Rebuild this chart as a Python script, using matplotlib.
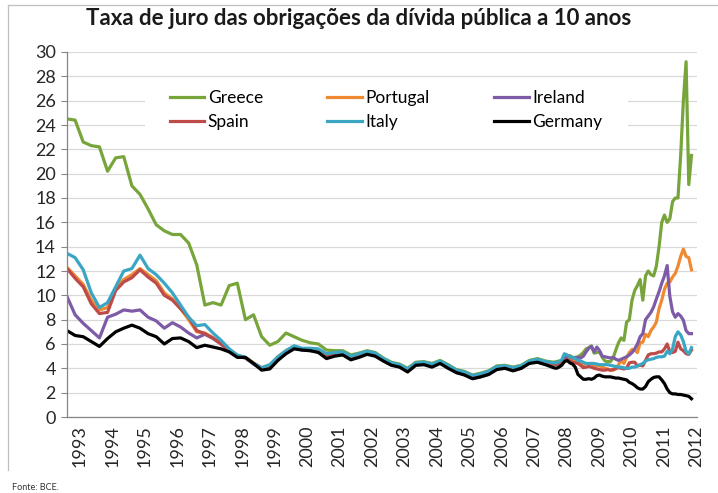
import matplotlib.pyplot as plt
import numpy as np
from matplotlib.patches import Rectangle
from matplotlib.lines import Line2D

plt.rcParams['font.family'] = ['Lato', 'DejaVu Sans']

# quarterly points 1993-2007, monthly points 2008 - Apr 2012
quarters = 1993 + np.arange(60) / 4
months = 2008 + np.arange(52) / 12
dates = np.concatenate([quarters, months])

years = list(range(1993, 2013))

greece_q = [24.5, 24.4, 22.6, 22.3, 22.2, 20.2, 21.3, 21.4, 19.0, 18.3, 17.1, 15.8,
            15.3, 15.0, 15.0, 14.3, 12.5, 9.2, 9.4, 9.2, 10.8, 11.0, 8.0, 8.4,
            6.6, 5.9, 6.2, 6.9, 6.6, 6.3, 6.1, 6.0, 5.5, 5.45, 5.45, 5.1,
            5.25, 5.45, 5.3, 4.85, 4.5, 4.35, 4.0, 4.5, 4.55, 4.4, 4.65, 4.3,
            3.9, 3.75, 3.45, 3.6, 3.8, 4.2, 4.25, 4.1, 4.25, 4.65, 4.8, 4.6]
greece_m = [4.5, 4.55, 4.6, 4.6, 4.8, 5.05, 5.05, 4.9, 4.9, 4.95, 5.1, 5.3,
            5.6, 5.7, 5.85, 5.25, 5.3, 5.35, 4.9, 4.6, 4.55, 4.55, 4.85, 5.5,
            6.1, 6.5, 6.3, 7.8, 8.0, 9.6, 10.4, 10.8, 11.3, 9.6, 11.6, 12.0,
            11.7, 11.6, 12.4, 14.0, 16.0, 16.6, 16.0, 16.3, 17.7, 18.0, 18.0, 21.5,
            26.0, 29.2, 19.1, 21.5]

portugal_q = [12.3, 11.6, 10.9, 9.6, 8.8, 9.0, 10.6, 11.3, 11.7, 12.2, 11.7, 11.2,
              10.2, 9.7, 8.9, 8.0, 7.0, 6.9, 6.5, 6.0, 5.5, 5.05, 4.9, 4.45,
              4.05, 4.25, 4.95, 5.45, 5.8, 5.6, 5.6, 5.5, 5.1, 5.25, 5.3, 4.95,
              5.1, 5.35, 5.2, 4.75, 4.4, 4.25, 3.9, 4.4, 4.45, 4.25, 4.55, 4.2,
              3.75, 3.6, 3.25, 3.4, 3.6, 4.05, 4.15, 3.9, 4.1, 4.5, 4.65, 4.45]
portugal_m = [4.35, 4.35, 4.45, 4.5, 4.6, 4.85, 4.8, 4.6, 4.6, 4.55, 4.45, 4.3,
              4.4, 4.35, 4.4, 4.25, 4.2, 4.2, 4.1, 4.0, 3.95, 3.85, 3.85, 3.95,
              4.3, 4.65, 4.4, 4.9, 5.3, 5.55, 5.5, 5.3, 6.1, 6.15, 6.8, 6.6,
              7.1, 7.4, 7.8, 8.9, 9.6, 10.5, 11.0, 11.1, 11.5, 11.8, 12.4, 13.2,
              13.8, 13.2, 13.1, 12.1]

ireland_q = [9.9, 8.4, 7.7, 7.1, 6.5, 8.2, 8.45, 8.8, 8.7, 8.8, 8.2, 7.9,
             7.3, 7.75, 7.4, 6.9, 6.5, 6.8, 6.45, 6.0, 5.45, 5.0, 4.85, 4.35,
             3.95, 4.15, 4.8, 5.3, 5.7, 5.5, 5.45, 5.4, 4.95, 5.15, 5.2, 4.85,
             5.0, 5.25, 5.1, 4.65, 4.3, 4.15, 3.8, 4.3, 4.35, 4.15, 4.45, 4.1,
             3.65, 3.5, 3.15, 3.3, 3.5, 3.95, 4.05, 3.8, 4.0, 4.45, 4.55, 4.35]
ireland_m = [4.35, 4.35, 4.45, 4.55, 4.7, 4.95, 4.95, 4.85, 4.85, 4.9, 4.85, 5.0,
             5.35, 5.65, 5.8, 5.35, 5.75, 5.45, 5.0, 4.95, 4.9, 4.85, 4.9, 4.75,
             4.65, 4.75, 4.85, 4.95, 5.1, 5.3, 5.6, 6.0, 6.6, 6.85, 8.0, 8.3,
             8.6, 9.05, 9.7, 10.3, 11.0, 11.6, 12.45, 9.9, 8.65, 8.2, 8.5, 8.3,
             7.95, 7.1, 6.85, 6.85]

spain_q = [12.2, 11.4, 10.7, 9.3, 8.5, 8.6, 10.4, 11.1, 11.45, 12.1, 11.5, 11.0,
           10.0, 9.6, 8.9, 8.2, 7.1, 6.85, 6.5, 6.0, 5.5, 5.0, 4.85, 4.4,
           4.0, 4.2, 4.85, 5.35, 5.75, 5.55, 5.5, 5.45, 5.0, 5.2, 5.25, 4.9,
           5.05, 5.3, 5.15, 4.7, 4.35, 4.2, 3.85, 4.35, 4.4, 4.2, 4.5, 4.15,
           3.7, 3.55, 3.2, 3.35, 3.55, 4.0, 4.1, 3.85, 4.05, 4.45, 4.6, 4.4]
spain_m = [4.35, 4.3, 4.35, 4.4, 4.55, 4.7, 4.6, 4.5, 4.45, 4.4, 4.25, 4.05,
           4.1, 4.15, 4.1, 4.0, 3.95, 3.9, 3.85, 3.85, 3.9, 3.85, 3.9, 4.0,
           4.05, 4.0, 3.95, 4.0, 4.45, 4.5, 4.5, 4.2, 4.25, 4.2, 4.65, 5.1,
           5.2, 5.2, 5.25, 5.35, 5.35, 5.6, 6.0, 5.35, 5.3, 5.4, 6.15, 5.6,
           5.45, 5.2, 5.15, 5.5]

italy_q = [13.45, 13.1, 12.1, 10.2, 9.0, 9.4, 10.7, 12.0, 12.2, 13.3, 12.2, 11.7,
           11.0, 10.2, 9.2, 8.2, 7.5, 7.6, 6.9, 6.3, 5.6, 5.1, 4.9, 4.4,
           4.05, 4.3, 4.95, 5.45, 5.85, 5.65, 5.65, 5.6, 5.2, 5.3, 5.35, 5.0,
           5.2, 5.4, 5.25, 4.8, 4.45, 4.3, 3.95, 4.45, 4.5, 4.35, 4.6, 4.25,
           3.85, 3.7, 3.4, 3.55, 3.75, 4.15, 4.2, 4.05, 4.2, 4.6, 4.75, 4.55]
italy_m = [4.45, 4.45, 4.55, 4.7, 5.2, 5.1, 4.95, 4.9, 4.8, 4.65, 4.6, 4.5,
           4.4, 4.4, 4.4, 4.4, 4.35, 4.3, 4.3, 4.3, 4.3, 4.25, 4.2, 4.15,
           4.1, 4.1, 4.05, 4.0, 4.0, 4.1, 4.1, 4.2, 4.3, 4.4, 4.6, 4.7,
           4.75, 4.8, 4.9, 4.95, 4.95, 5.0, 5.4, 5.2, 5.6, 6.6, 7.0, 6.75,
           6.2, 5.4, 5.2, 5.7]

germany_q = [7.1, 6.7, 6.6, 6.2, 5.8, 6.45, 7.0, 7.3, 7.55, 7.3, 6.85, 6.6,
             6.0, 6.45, 6.5, 6.2, 5.7, 5.9, 5.75, 5.6, 5.35, 4.9, 4.9, 4.4,
             3.85, 3.95, 4.65, 5.2, 5.6, 5.5, 5.45, 5.3, 4.8, 5.0, 5.1, 4.7,
             4.9, 5.15, 5.0, 4.6, 4.25, 4.1, 3.7, 4.25, 4.3, 4.1, 4.4, 4.0,
             3.65, 3.45, 3.15, 3.3, 3.5, 3.9, 4.0, 3.8, 4.0, 4.4, 4.5, 4.3]
germany_m = [4.05, 4.0, 4.1, 4.25, 4.55, 4.65, 4.45, 4.35, 4.1, 3.5, 3.3, 3.1,
             3.1, 3.15, 3.1, 3.2, 3.4, 3.45, 3.35, 3.3, 3.3, 3.3, 3.25, 3.2,
             3.2, 3.15, 3.1, 3.05, 2.85, 2.75, 2.6, 2.4, 2.3, 2.3, 2.5, 2.9,
             3.1, 3.25, 3.3, 3.3, 3.05, 2.75, 2.3, 2.0, 1.9, 1.9, 1.85, 1.85,
             1.8, 1.75, 1.7, 1.5]

series = [
    ("Greece", greece_q, greece_m, "#77A53B"),
    ("Portugal", portugal_q, portugal_m, "#F08A32"),
    ("Ireland", ireland_q, ireland_m, "#7D5BA6"),
    ("Spain", spain_q, spain_m, "#BE4B48"),
    ("Italy", italy_q, italy_m, "#3AA6C4"),
    ("Germany", germany_q, germany_m, "#000000"),
]

fig = plt.figure(figsize=(7.18, 4.93), dpi=100)
ax = fig.add_axes([67 / 718, 76 / 493, 630 / 718, 365 / 493])

handles = []
for name, q, m, color in series:
    line, = ax.plot(dates, np.concatenate([q, m]), color=color, lw=2.3, label=name,
                    solid_joinstyle="round", zorder=2)
    handles.append(line)

ax.set_ylim(0, 30)
ax.set_yticks(range(0, 31, 2))
ax.set_xlim(1993, 2012.42)
ax.set_xticks([y + 0.4 for y in years])
ax.set_xticklabels([str(y) for y in years], rotation=90)

ax.set_axisbelow(True)
ax.grid(axis="y", color="#D9D9D9", lw=0.9)
for s in ["top", "right"]:
    ax.spines[s].set_visible(False)
for s in ["left", "bottom"]:
    ax.spines[s].set_color("#868686")
    ax.spines[s].set_linewidth(0.9)
ax.tick_params(axis="y", length=4, color="#868686", labelsize=13, labelcolor="#262626", pad=4)
ax.tick_params(axis="x", length=0, labelsize=13, labelcolor="#262626", pad=6)

# white box behind legend hides the gridlines
ax.add_patch(Rectangle((0.124, 0.755), 0.766, 0.16, transform=ax.transAxes,
                       facecolor="white", edgecolor="none", zorder=1))
# legend fills column by column, so reorder to read row-wise
order = [0, 3, 1, 4, 2, 5]
ax.legend([handles[i] for i in order], [series[i][0] for i in order],
          ncol=3, loc="upper left", bbox_to_anchor=(0.163, 0.895), frameon=False,
          fontsize=12.5, handlelength=2.0, handletextpad=0.2, columnspacing=3.7,
          labelspacing=0.45, borderpad=0, borderaxespad=0)

fig.text(0.499, 0.963, "Taxa de juro das obrigações da dívida pública a 10 anos",
         ha="center", va="center", fontsize=16, fontweight="bold", color="#1a1a1a")
fig.text(12 / 718, 1 - 487 / 493, "Fonte: BCE.", ha="left", va="center", fontsize=6.5,
         color="#333333")

# chart border (top and left edge)
fig.add_artist(Line2D([8 / 718, 1], [1 - 5 / 493, 1 - 5 / 493], color="#BFBFBF", lw=0.9))
fig.add_artist(Line2D([8 / 718, 8 / 718], [1 - 5 / 493, 1 - 470 / 493], color="#BFBFBF", lw=0.9))

fig.savefig("out.png", dpi=100)
